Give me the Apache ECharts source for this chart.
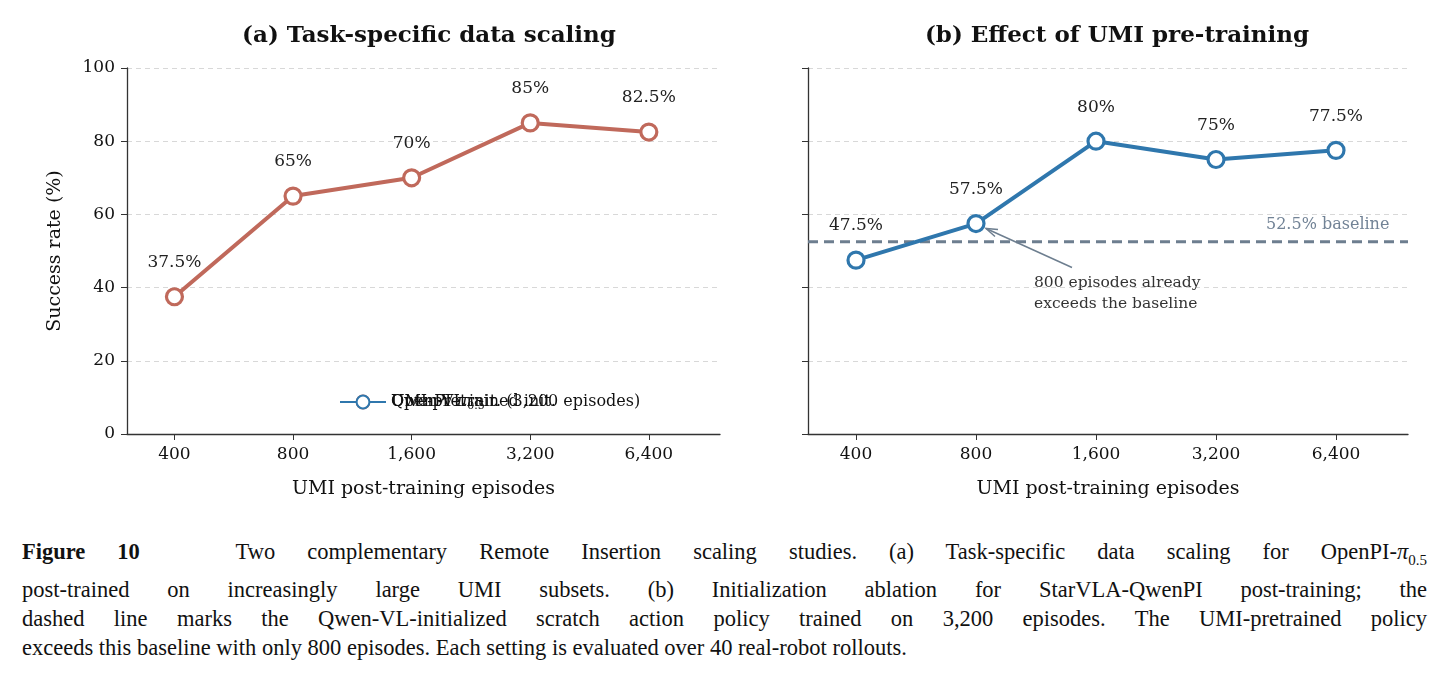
<!DOCTYPE html>
<html lang="en">
<head>
<meta charset="UTF-8">
<title>Figure 10</title>
<script src="https://cdn.jsdelivr.net/npm/echarts@6.0.0/dist/echarts.min.js"></script>
<style>
  body { margin: 0; background: #fff; }
  #chart { width: 1443px; height: 525px; }
  #caption { font-family: "Liberation Serif", "DejaVu Serif", serif; font-size: 22.5px; line-height: 29px;
             color: #111; padding: 12px 16px 0 22px; }
  #caption div { text-align: justify; text-align-last: justify; white-space: nowrap; }
  #caption div.last { text-align-last: left; }
</style>
</head>
<body>
<div id="chart"></div>
<div id="caption">
<div><b>Figure 10</b>&nbsp;&nbsp; Two complementary Remote Insertion scaling studies. (a) Task-specific data scaling for OpenPI-<i>π</i><sub style="font-size:15px">0.5</sub></div>
<div>post-trained on increasingly large UMI subsets. (b) Initialization ablation for StarVLA-QwenPI post-training; the</div>
<div>dashed line marks the Qwen-VL-initialized scratch action policy trained on 3,200 episodes. The UMI-pretrained policy</div>
<div class="last">exceeds this baseline with only 800 episodes. Each setting is evaluated over 40 real-robot rollouts.</div>
</div>
<script>
const categories = ['400', '800', '1,600', '3,200', '6,400']
const taskSpecific = [37.5, 65, 70, 85, 82.5]
const umiPretrained = [47.5, 57.5, 80, 75, 77.5]
const baseline = 52.5
const yTicks = [0, 20, 40, 60, 80, 100]

const serif = 'DejaVu Serif'
const chart = echarts.init(document.getElementById('chart'))

const pts = arr => arr.map((v, i) => [i, v])
const pct = v => v + '%'
const catIdx = categories.map((c, i) => i)

const xAxisBase = gi => ({
  type: 'value', gridIndex: gi, min: -0.4, max: 4.6, interval: 0.2,
  name: 'UMI post-training episodes', nameLocation: 'middle', nameGap: 46,
  nameTextStyle: { fontFamily: serif, fontSize: 19, color: '#111' },
  axisLine: { onZero: false, lineStyle: { color: '#333', width: 1.3 } },
  axisTick: { show: true, length: 6, customValues: catIdx, lineStyle: { color: '#333' } },
  axisLabel: { fontFamily: serif, fontSize: 17, color: '#111', margin: 12, customValues: catIdx,
    formatter: v => categories[Math.round(v)] ?? '' },
  splitLine: { show: false }
})
const yAxisBase = (gi, labels) => ({
  type: 'value', gridIndex: gi, min: 0, max: 100, interval: 20,
  name: labels ? 'Success rate (%)' : '', nameLocation: 'middle', nameGap: 62,
  nameTextStyle: { fontFamily: serif, fontSize: 19, color: '#111' },
  axisLine: { show: true, onZero: false, lineStyle: { color: '#333', width: 1.3 } },
  axisTick: { show: true, length: 6, lineStyle: { color: '#333' } },
  axisLabel: { show: labels, fontFamily: serif, fontSize: 17, color: '#111', margin: 12,
    formatter: v => yTicks.includes(v) ? String(v) : '' },
  splitLine: { show: true, lineStyle: { type: [5, 4], color: '#d8d8d8', width: 1 } }
})
const lineSeries = (name, data, color, xi) => ({
  name, type: 'line', xAxisIndex: xi, yAxisIndex: xi, data: pts(data),
  symbol: 'circle', symbolSize: 16,
  lineStyle: { color, width: 4 },
  itemStyle: { color: '#fff', borderColor: color, borderWidth: 3.2 },
  label: { show: true, position: 'top', distance: 16, fontFamily: serif, fontSize: 17, color: '#222',
    formatter: p => pct(p.value[1]) },
  z: 3
})

const option = {
  animation: false,
  title: [
    { text: '(a) Task-specific data scaling', left: 424, top: 20, textAlign: 'center',
      textStyle: { fontFamily: serif, fontSize: 23, fontWeight: 'bold', color: '#111' } },
    { text: '(b) Effect of UMI pre-training', left: 1112, top: 20, textAlign: 'center',
      textStyle: { fontFamily: serif, fontSize: 23, fontWeight: 'bold', color: '#111' } }
  ],
  grid: [
    { left: 127, top: 68, width: 593, height: 366 },
    { left: 808, top: 68, width: 600, height: 366 }
  ],
  xAxis: [xAxisBase(0), xAxisBase(1)],
  yAxis: [yAxisBase(0, true), yAxisBase(1, false)],
  legend: [
    { data: ['OpenPI-π0.5'], left: 334, top: 389, itemWidth: 46, itemHeight: 16,
      textStyle: { fontFamily: serif, fontSize: 16, color: '#111', rich: {
        a: { fontFamily: serif, fontSize: 16, color: '#111' },
        i: { fontFamily: serif, fontSize: 16, fontStyle: 'italic', color: '#111' },
        s: { fontFamily: serif, fontSize: 11, color: '#111', padding: [8, 0, 0, 0] } } },
      formatter: () => '{a|OpenPI-}{i|π}{s|0.5}' },
    { data: ['UMI-pretrained init.',
             { name: 'Qwen-VL init. (3,200 episodes)', icon: 'path://M0,0L1,0' }], orient: 'vertical',
      left: 928, top: 361, itemGap: 10, itemWidth: 46, itemHeight: 16,
      textStyle: { fontFamily: serif, fontSize: 16, color: '#111' } }
  ],
  series: [
    lineSeries('OpenPI-π0.5', taskSpecific, '#c0695b', 0),
    lineSeries('UMI-pretrained init.', umiPretrained, '#2f77ad', 1),
    { name: 'Qwen-VL init. (3,200 episodes)', type: 'line', xAxisIndex: 1, yAxisIndex: 1,
      data: [[-0.4, baseline], [4.6, baseline]], symbol: 'none',
      lineStyle: { color: '#6d7e8f', width: 3, type: [10, 6] }, itemStyle: { color: 'rgba(0,0,0,0)' },
      endLabel: { show: true, formatter: baseline + '% baseline', offset: [-150, -17],
        fontFamily: serif, fontSize: 16, color: '#728396' }, z: 2 }
  ]
}
chart.setOption(option)

// annotation arrow pointing at the 800-episode point of panel (b)
const tip = chart.convertToPixel({ gridIndex: 1 }, [1, umiPretrained[1]])
const tail = chart.convertToPixel({ gridIndex: 1 }, [1.8, 45.5])
chart.setOption({
  graphic: [
    { type: 'line', shape: { x1: tail[0], y1: tail[1], x2: tip[0] + 10, y2: tip[1] + 5 },
      style: { stroke: '#6d7e8f', lineWidth: 1.5 } },
    { type: 'polyline', shape: { points: [[tip[0] + 22, tip[1] + 6], [tip[0] + 10, tip[1] + 5], [tip[0] + 19, tip[1] + 13]] },
      style: { stroke: '#6d7e8f', lineWidth: 1.5, fill: null } },
    { type: 'text', x: 1034, y: 272,
      style: { text: '800 episodes already\nexceeds the baseline', fontFamily: serif, fontSize: 15.5,
        lineHeight: 21, fill: '#333' } }
  ]
})
</script>
</body>
</html>
